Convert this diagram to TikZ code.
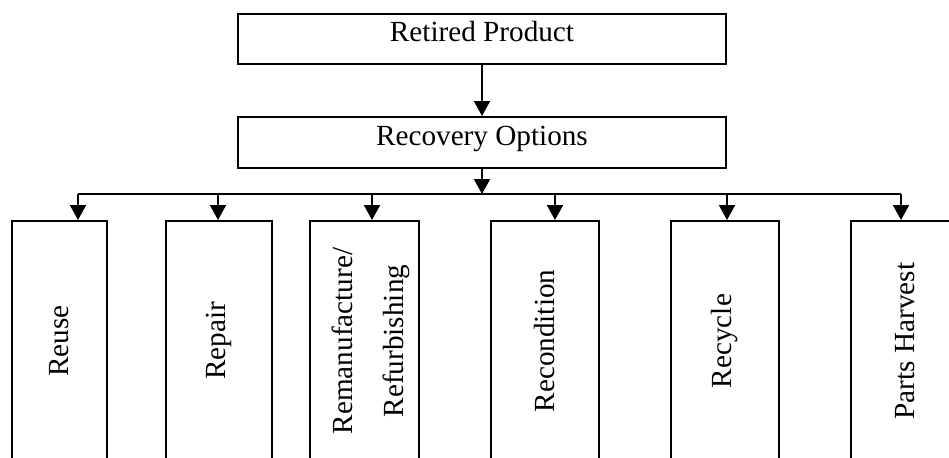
\documentclass[tikz,border=0pt]{standalone}
\usepackage{fontspec}
\setmainfont{Liberation Serif}
\usetikzlibrary{arrows.meta}

\begin{document}
\begin{tikzpicture}[x=0.5pt, y=-0.5pt]
	\tikzstyle{every node}=[font=\fontsize{14.6}{17.5}\selectfont];
	\tikzstyle{topbox}=[draw, line width=1pt, minimum width=244pt, text height=10pt, text depth=7.5pt, inner sep=0pt];
	\tikzstyle{optbox}=[draw, line width=1pt, minimum height=120pt, inner sep=0pt];
	\tikzstyle{arr}=[line width=1pt, -{Triangle[length=7.5pt, width=8pt]}];
	
	\useasboundingbox (0, 0) rectangle (949, 457);
	
	%Top boxes
	\node[topbox, minimum height=25pt] (retired) at (482, 39) {Retired Product};
	\node[topbox, minimum height=25.5pt] (recovery) at (482, 142.5) {Recovery Options};
	\draw[arr] (retired.south) -- (recovery.north);
	
	%Options
	\node[optbox, minimum width=47.5pt] (reuse) at (59.5, 341) {\rotatebox{90}{Reuse}};
	\node[optbox, minimum width=53pt] (repair) at (219, 341) {\rotatebox{90}{Repair}};
	\node[optbox, minimum width=54.5pt] (reman) at (364.5, 341) {\hspace*{6pt}\rotatebox{90}{\begin{tabular}{@{}c@{}}Remanufacture/\\[8pt]Refurbishing\end{tabular}}};
	\node[optbox, minimum width=54pt] (recond) at (545, 341) {\rotatebox{90}{Recondition}};
	\node[optbox, minimum width=54pt] (recycle) at (725, 341) {\rotatebox{90}{Recycle}};
	\node[optbox, minimum width=54pt] (harvest) at (905, 341) {\rotatebox{90}{Parts Harvest}};
	
	%Branches
	\coordinate (bus) at (482, 194);
	\draw[arr] (recovery.south) -- (bus);
	\foreach \name/\x in {reuse/78, repair/218, reman/372, recond/555, recycle/727, harvest/901}
	{
		\coordinate (\name-in) at (\x, 194);
		\draw[arr] (\name-in) -- (\name-in |- \name.north);
	}
	\draw[line width=1pt] (reuse-in) -- (harvest-in);
\end{tikzpicture}
\end{document}
